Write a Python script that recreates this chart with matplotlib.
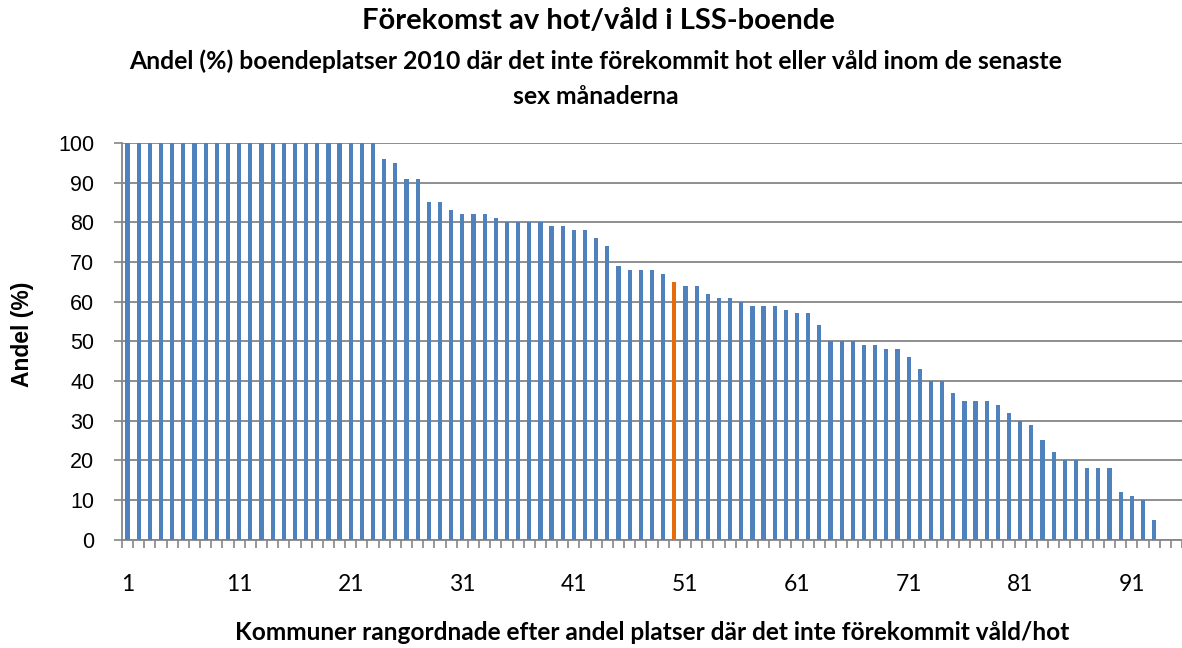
import matplotlib.pyplot as plt
import numpy as np

# Andel (%) per kommun, rangordnade
values = [
    100, 100, 100, 100, 100, 100, 100, 100, 100, 100,
    100, 100, 100, 100, 100, 100, 100, 100, 100, 100,
    100, 100, 100, 96, 95, 91, 91, 85, 85, 83,
    82, 82, 82, 81, 80, 80, 80, 80, 79, 79,
    78, 78, 76, 74, 69, 68, 68, 68, 67, 65,
    64, 64, 62, 61, 61, 60, 59, 59, 59, 58,
    57, 57, 54, 50, 50, 50, 49, 49, 48, 48,
    46, 43, 40, 40, 37, 35, 35, 35, 34, 32,
    30, 29, 25, 22, 20, 20, 18, 18, 18, 12,
    11, 10, 5,
]
highlight = 50  # rank of the highlighted kommun
xtick_labels = [1, 11, 21, 31, 41, 51, 61, 71, 81, 91]
yticks = [0, 10, 20, 30, 40, 50, 60, 70, 80, 90, 100]

BLUE = "#4F81BD"
ORANGE = "#E46C0A"
GRID = "#868686"

W, H = 1182, 648
fig = plt.figure(figsize=(W / 100, H / 100), dpi=100)
ax = fig.add_axes([122 / W, (H - 539.5) / H, (W - 122) / W, (539.5 - 143) / H])

ranks = np.arange(1, len(values) + 1)
colors = [ORANGE if r == highlight else BLUE for r in ranks]
ax.bar(ranks, values, width=0.38, color=colors, zorder=3)

ax.set_xlim(0.5, 0.5 + (W - 122) / 11.22)
ax.set_ylim(0, 100)

# y axis
ax.set_yticks(yticks)
ax.set_yticklabels([str(v) for v in yticks], fontsize=15.5, family="Liberation Sans")
ax.tick_params(axis="y", length=6, width=1.2, color=GRID, pad=14)
ax.grid(axis="y", color=GRID, linewidth=1.3, zorder=0)

# x axis: labels on every 10th rank, small ticks between categories
ax.set_xticks(xtick_labels)
ax.set_xticklabels([str(v) for v in xtick_labels], fontsize=16.5, family="Lato")
ax.tick_params(axis="x", which="major", length=0, pad=25)
ax.set_xticks(np.arange(0.5, 96.5, 1.0), minor=True)
ax.tick_params(axis="x", which="minor", length=6, width=1.2, color=GRID)

for side in ("top", "right"):
    ax.spines[side].set_visible(False)
for side in ("left", "bottom"):
    ax.spines[side].set_color(GRID)
    ax.spines[side].set_linewidth(1.3)

fig.text(23 / W, 1 - 334 / H, "Andel (%)", rotation=90, ha="center", va="center",
         fontsize=16.5, fontweight="bold", family="Liberation Sans")

fig.text(598 / W, 1 - 21 / H, "Förekomst av hot/våld i LSS-boende", ha="center",
         va="center", fontsize=21, fontweight="bold", family="Lato")
fig.text(596 / W, 1 - 61 / H,
         "Andel (%) boendeplatser 2010 där det inte förekommit hot eller våld inom de senaste",
         ha="center", va="center", fontsize=17.8, fontweight="bold", family="Lato")
fig.text(596 / W, 1 - 96 / H, "sex månaderna", ha="center", va="center",
         fontsize=17.8, fontweight="bold", family="Lato")

fig.text(652 / W, 1 - 633 / H,
         "Kommuner rangordnade efter andel platser där det inte förekommit våld/hot",
         ha="center", va="center", fontsize=17.6, fontweight="bold", family="Lato")

fig.savefig("out.png", dpi=100)
